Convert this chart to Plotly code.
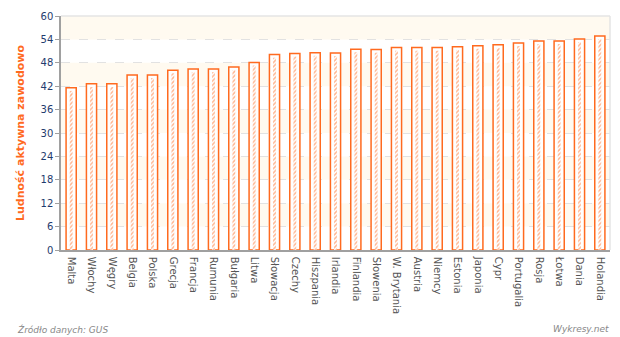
import plotly.graph_objects as go

# Economically active population by country
countries = ["Malta", "Włochy", "Węgry", "Belgia", "Polska", "Grecja", "Francja",
             "Rumunia", "Bułgaria", "Litwa", "Słowacja", "Czechy", "Hiszpania",
             "Irlandia", "Finlandia", "Słowenia", "W. Brytania", "Austria", "Niemcy",
             "Estonia", "Japonia", "Cypr", "Portugalia", "Rosja", "Łotwa", "Dania",
             "Holandia"]
values = [41.6, 42.6, 42.6, 44.9, 44.9, 46.1, 46.4, 46.4, 46.9, 48.1, 50.1, 50.4, 50.6,
          50.5, 51.5, 51.4, 51.9, 51.9, 51.9, 52.1, 52.4, 52.6, 53.1, 53.6, 53.6, 54.1,
          54.9]
y_ticks = list(range(0, 61, 6))

ORANGE = "#ff6a1f"
NAVY = "#1f3c6e"
FONT = "DejaVu Sans"

fig = go.Figure()

# outlined bar
fig.add_trace(go.Bar(
    x=countries, y=values, width=0.5,
    marker=dict(color="white", line=dict(color=ORANGE, width=1.5)),
    hoverinfo="x+y",
))
# hatched core of each bar, stopping a little short of the top
fig.add_trace(go.Bar(
    x=countries, y=[v - 0.8 for v in values], width=0.14,
    marker=dict(color="white", line=dict(width=0),
                pattern=dict(shape="/", fgcolor=ORANGE, bgcolor="white",
                             size=3, solidity=0.5)),
    hoverinfo="skip",
))

# alternating cream bands in the plot background
shapes = []
for lo in range(6, 60, 12):
    shapes.append(dict(type="rect", xref="paper", yref="y", x0=0, x1=1, y0=lo, y1=lo + 6,
                       fillcolor="#fffaf0", line=dict(width=0), layer="below"))
# light frame on top and right
shapes.append(dict(type="line", xref="paper", yref="paper", x0=0, x1=1, y0=1, y1=1,
                   line=dict(color="#e4e4e4", width=1.5)))
shapes.append(dict(type="line", xref="paper", yref="paper", x0=1, x1=1, y0=0, y1=1,
                   line=dict(color="#e4e4e4", width=1.5)))

fig.update_layout(
    width=620, height=337,
    margin=dict(l=61, r=10, t=11, b=87),
    paper_bgcolor="white", plot_bgcolor="white",
    barmode="overlay", showlegend=False,
    font=dict(family=FONT, size=10, color="#555555"),
    shapes=shapes,
    xaxis=dict(
        tickangle=90, tickfont=dict(family=FONT, size=10, color="#555555"),
        showline=True, linecolor="#a0a0a0", linewidth=1.5,
        showgrid=False, ticks="outside", ticklen=3, tickcolor="rgba(0,0,0,0)",
        range=[-0.5, len(countries) - 0.5],
    ),
    yaxis=dict(
        range=[0, 60], tickvals=y_ticks,
        tickfont=dict(family=FONT, size=10, color=NAVY),
        showline=True, linecolor="#a0a0a0", linewidth=1.5,
        ticks="outside", ticklen=4, tickcolor="#a0a0a0",
        showgrid=True, gridcolor="#e2e2e2", griddash="dash", gridwidth=1,
        zeroline=False,
        title=dict(text="Ludność aktywna zawodowo",
                   font=dict(family=FONT, size=11, color=ORANGE, weight="bold"),
                   standoff=14),
    ),
    annotations=[
        dict(text="<i>Źródło danych: GUS</i>", xref="paper", yref="paper",
             x=-46 / 549, y=-81 / 239, xanchor="left", yanchor="middle",
             showarrow=False, font=dict(family=FONT, size=9, color="#888888")),
        dict(text="<i>Wykresy.net</i>", xref="paper", yref="paper",
             x=1.002, y=-81 / 239, xanchor="right", yanchor="middle",
             showarrow=False, font=dict(family=FONT, size=9, color="#888888")),
    ],
)

fig.write_html("out.html")
